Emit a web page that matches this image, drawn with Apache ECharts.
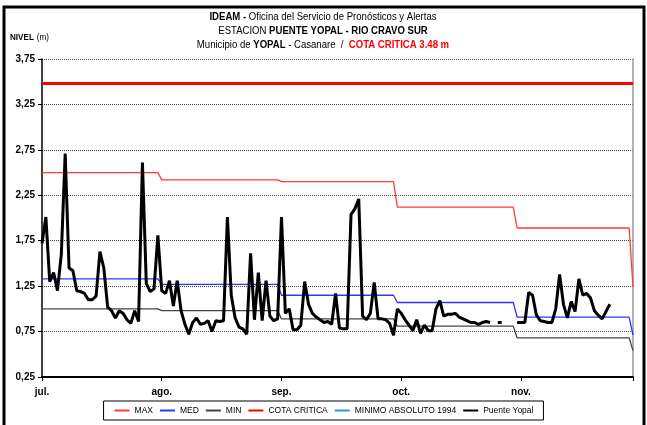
<!DOCTYPE html>
<html>
<head>
<meta charset="utf-8">
<script src="https://cdn.jsdelivr.net/npm/echarts@6/dist/echarts.min.js"></script>
<style>
  html, body { margin: 0; padding: 0; background: #fff; }
  #chart { width: 647px; height: 425px; }
</style>
</head>
<body>
<div id="chart"></div>
<script>
// Daily river level (m) at Puente Yopal, Río Cravo Sur, 1 Jul – 1 Dec
const julLevels = [1.72, 2.01, 1.30, 1.40, 1.20, 1.60, 2.71, 1.45, 1.42, 1.20, 1.19, 1.17, 1.10, 1.10, 1.14, 1.63,
                   1.45, 1.02, 0.98, 0.90, 0.98, 0.95, 0.88, 0.84, 0.98, 0.86, 2.61, 1.28, 1.19, 1.22, 1.81];
const agoLevels = [1.20, 1.17, 1.31, 1.03, 1.31, 0.98, 0.83, 0.72, 0.85, 0.90, 0.83, 0.84, 0.87, 0.75, 0.87, 0.86,
                   0.87, 2.01, 1.15, 0.90, 0.80, 0.78, 0.72, 1.61, 0.88, 1.40, 0.87, 1.31, 0.92, 0.87, 0.89];
const sepLevels = [2.01, 0.95, 1.00, 0.77, 0.77, 0.82, 1.30, 1.05, 0.95, 0.91, 0.88, 0.85, 0.86, 0.83, 1.17, 0.79,
                   0.78, 0.78, 2.04, 2.10, 2.21, 0.92, 0.88, 0.95, 1.29, 0.89, 0.89, 0.88, 0.84, 0.71];
const octLevels = [1.00, 0.95, 0.88, 0.82, 0.76, 0.88, 0.73, 0.82, 0.76, 0.76, 1.00, 1.09, 0.92, 0.94, 0.94, 0.95,
                   0.91, 0.89, 0.87, 0.85, 0.85, 0.83, 0.85, 0.86, 0.85, null, 0.85, 0.85, null, null, null];
const novLevels = [0.85, 0.85, 0.85, 1.18, 1.15, 0.93, 0.87, 0.86, 0.85, 0.85, 1.00, 1.38, 1.05, 0.90, 1.08, 0.97,
                   1.33, 1.15, 1.17, 1.12, 0.98, 0.93, 0.89, 0.97, 1.05, null, null, null, null, null];
const decLevels = [null];

// Historical monthly reference levels (Jul..Nov) and the closing value on 1 Dec
const monthLengths = [31, 31, 30, 31, 30];
const maxLevels = [2.50, 2.42, 2.40, 2.12, 1.89];
const medLevels = [1.33, 1.27, 1.15, 1.07, 0.91];
const minLevels = [1.00, 0.98, 0.89, 0.81, 0.68];
const maxEnd = 1.24, medEnd = 0.71, minEnd = 0.54;
const cotaCritica = 3.48;

// Axis labels
const monthLabels = ['jul.', 'ago.', 'sep.', 'oct.', 'nov.'];
const monthTickStep = 31;
const lastDay = 153;

const stationLevels = [].concat(julLevels, agoLevels, sepLevels, octLevels, novLevels, decLevels);
const stationData = stationLevels.map((v, i) => [i, v === null ? '-' : v]);

// Monthly step line: flat through each month, joined day to day
function monthlySteps(levels, endValue) {
  const pts = [];
  let start = 0;
  levels.forEach((v, m) => {
    pts.push([start, v]);
    pts.push([start + monthLengths[m] - 1, v]);
    start += monthLengths[m];
  });
  pts.push([lastDay, endValue]);
  return pts;
}

const FONT = "'Liberation Sans', Arial, sans-serif";

const chart = echarts.init(document.getElementById('chart'), null, { renderer: 'canvas' });

function lineSeries(name, data, color, width, z) {
  return {
    name, type: 'line', data, showSymbol: false, symbol: 'none',
    lineStyle: { color, width }, itemStyle: { color }, z, animation: false,
    emphasis: { disabled: true }
  };
}

const titleRich = {
  n: { fontFamily: FONT, fontSize: 11, lineHeight: 14, fill: '#000' },
  b: { fontFamily: FONT, fontSize: 11, lineHeight: 14, fontWeight: 'bold', fill: '#000' },
  r: { fontFamily: FONT, fontSize: 11, lineHeight: 14, fontWeight: 'bold', fill: '#ff0000' }
};

chart.setOption({
  backgroundColor: '#fff',
  animation: false,
  graphic: [
    { type: 'rect', shape: { x: 4, y: 7, width: 640, height: 430 },
      style: { fill: 'none', stroke: '#000', lineWidth: 3 }, silent: true },
    // condensed three-line heading
    { type: 'text', x: 323, y: 10, scaleX: 0.87, silent: true,
      style: {
        align: 'center', verticalAlign: 'top',
        text: '{b|IDEAM - }{n|Oficina del Servicio de Pronósticos y Alertas}\n' +
              '{n|ESTACION }{b|PUENTE YOPAL - RIO CRAVO SUR}\n' +
              '{n|Municipio de }{b|YOPAL}{n| - Casanare  /  }{r|COTA CRITICA 3.48 m}',
        rich: titleRich
      } },
    { type: 'text', x: 10, y: 32, scaleX: 0.9, silent: true,
      style: { text: '{b|NIVEL} {n|(m)}', rich: {
        b: { fontFamily: FONT, fontSize: 9, fontWeight: 'bold', fill: '#000' },
        n: { fontFamily: FONT, fontSize: 9, fill: '#000' } } } }
  ],
  legend: {
    left: 'center', top: 401,
    data: ['MAX', 'MED', 'MIN', 'COTA CRITICA', 'MINIMO ABSOLUTO 1994', 'Puente Yopal'],
    itemWidth: 15, itemHeight: 8, itemGap: 6,
    padding: [5, 10, 5, 10],
    borderColor: '#000', borderWidth: 1,
    itemStyle: { opacity: 0 },
    textStyle: { fontFamily: FONT, fontSize: 8.5, color: '#000' },
    selectedMode: false
  },
  grid: { left: 42, right: 14, top: 59, bottom: 48, containLabel: false },
  xAxis: {
    type: 'value', min: 0, max: lastDay, interval: monthTickStep,
    axisLine: { lineStyle: { color: '#000', width: 2 } },
    axisTick: { show: true, length: 4, lineStyle: { color: '#000' } },
    splitLine: { show: false },
    axisLabel: {
      margin: 10, fontFamily: FONT, fontSize: 10, fontWeight: 'bold', color: '#000',
      formatter: v => (v % monthTickStep === 0 ? (monthLabels[v / monthTickStep] || '') : '')
    }
  },
  yAxis: [{
    type: 'value', min: 0.25, max: 3.75, interval: 0.5,
    axisLine: { show: true, lineStyle: { color: '#000', width: 1.5 } },
    axisTick: { show: true, length: 4, lineStyle: { color: '#000' } },
    splitLine: { show: true, lineStyle: { color: '#444', width: 1, type: [1, 1] } },
    axisLabel: {
      margin: 7, fontFamily: FONT, fontSize: 10, fontWeight: 'bold', color: '#000',
      formatter: v => v.toFixed(2).replace('.', ',')
    }
  }, {
    type: 'value', min: 0.25, max: 3.75, interval: 0.5, position: 'right',
    axisLine: { show: true, lineStyle: { color: '#999', width: 1.5 } },
    axisTick: { show: false }, axisLabel: { show: false }, splitLine: { show: false }
  }],
  series: [
    lineSeries('MAX', monthlySteps(maxLevels, maxEnd), '#ff3b3b', 1.3, 3),
    lineSeries('MED', monthlySteps(medLevels, medEnd), '#3333ff', 1.3, 3),
    lineSeries('MIN', monthlySteps(minLevels, minEnd), '#444444', 1.3, 3),
    lineSeries('COTA CRITICA', [[0, cotaCritica], [lastDay, cotaCritica]], '#ff0000', 3, 4),
    lineSeries('MINIMO ABSOLUTO 1994', [], '#1e9fd8', 3, 4),
    lineSeries('Puente Yopal', stationData, '#000000', 3, 5)
  ]
});
</script>
</body>
</html>
